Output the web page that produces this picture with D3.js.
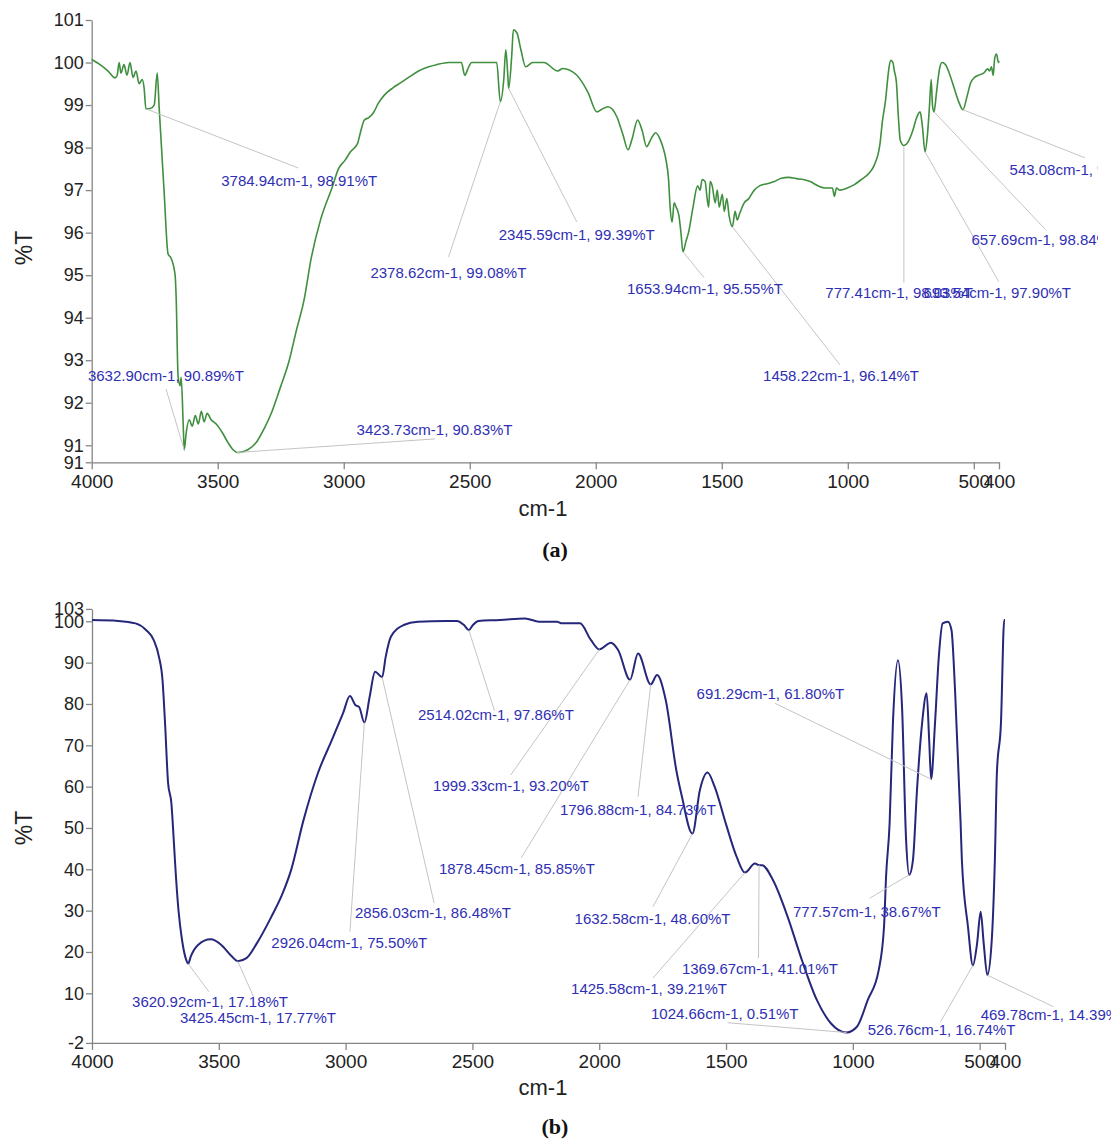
<!DOCTYPE html>
<html>
<head>
<meta charset="utf-8">
<script src="https://cdn.jsdelivr.net/npm/d3@7"></script>
<style>
  body { margin: 0; background: #fff; }
</style>
</head>
<body>
<div id="container"></div>
<script>
/* DATA */
// (a) spectrum, wavenumber (cm-1) and %T
const topWn = [4000, 3967, 3935, 3907, 3899, 3891, 3884, 3872, 3860, 3848, 3836, 3824, 3812, 3800, 3792,
  3784.94, 3768, 3752, 3740, 3732, 3713, 3697, 3685, 3669, 3665, 3657, 3649, 3645, 3637, 3632.90, 3625,
  3613, 3601, 3589, 3577, 3565, 3554, 3542, 3526, 3506, 3482, 3458, 3440, 3423.73, 3406, 3379, 3343, 3315,
  3287, 3252, 3216, 3188, 3158, 3129, 3092, 3045, 3021, 2995, 2973, 2945, 2934, 2918, 2902, 2882, 2862,
  2838, 2806, 2775, 2735, 2703, 2663, 2631, 2584, 2533, 2520, 2504, 2492, 2433, 2393, 2378.62, 2365, 2357,
  2349, 2345.59, 2333, 2327, 2313, 2297, 2278, 2250, 2206, 2151, 2131, 2075, 2031, 1995, 1976, 1952, 1916,
  1892, 1872, 1856, 1834, 1816, 1798, 1781, 1762, 1745, 1733, 1721, 1711, 1705, 1697, 1689, 1681, 1670,
  1662, 1653.94, 1642, 1632, 1614, 1596, 1586, 1578, 1566, 1558, 1552, 1546, 1538, 1526, 1518, 1510, 1498,
  1490, 1480, 1471, 1458.22, 1447, 1439, 1429, 1411, 1393, 1371, 1350, 1320, 1292, 1264, 1234, 1204, 1176,
  1149, 1118, 1089, 1061, 1053, 1045, 1031, 1002, 974, 946, 915, 894, 872, 863, 850, 842, 836, 829, 821,
  815, 807, 799, 792, 777.41, 759, 742, 727, 713, 704, 693.54, 684, 676, 669, 664, 657.69, 648, 636, 626,
  612, 598, 578, 558, 543.08, 527, 512, 497, 481, 461, 445, 437, 430, 423, 417, 410, 402, 400];
const topT = [100.07, 99.95, 99.8, 99.64, 99.7, 100.0, 99.75, 99.95, 99.7, 100.0, 99.65, 99.8, 99.5, 99.6, 99.4,
  98.91, 98.92, 99.0, 99.75, 98.9, 97.0, 95.5, 95.4, 95.0, 94.5, 92.6, 92.4, 92.6, 91.5, 90.89, 91.3,
  91.6, 91.45, 91.7, 91.5, 91.8, 91.55, 91.75, 91.6, 91.5, 91.3, 91.05, 90.9, 90.83, 90.84, 90.9, 91.1, 91.4,
  91.76, 92.35, 93.0, 93.7, 94.4, 95.4, 96.3, 97.08, 97.5, 97.7, 97.9, 98.1, 98.35, 98.65, 98.7, 98.82, 99.05,
  99.24, 99.4, 99.52, 99.68, 99.8, 99.9, 99.95, 100.0, 100.0, 99.7, 99.9, 100.0, 100.0, 100.0, 99.08, 99.6, 100.3,
  99.7, 99.39, 100.2, 100.77, 100.7, 100.3, 99.9, 100.0, 100.0, 99.8, 99.86, 99.7, 99.3, 98.84, 98.9, 98.96, 98.72,
  98.3, 97.95, 98.2, 98.65, 98.4, 98.02, 98.2, 98.35, 98.2, 98.0, 97.7, 97.24, 96.6, 96.25, 96.7, 96.6, 96.4,
  96.0, 95.55, 95.8, 96.0, 96.6, 97.1, 97.0, 97.25, 97.2, 96.8, 96.6, 97.2, 97.1, 96.7, 97.0, 96.6, 96.9,
  96.5, 96.8, 96.4, 96.14, 96.5, 96.3, 96.45, 96.7, 96.8, 97.0, 97.1, 97.15, 97.2, 97.28, 97.3, 97.27, 97.25,
  97.2, 97.1, 97.05, 97.05, 96.85, 97.05, 97.0, 97.05, 97.13, 97.25, 97.4, 97.6, 98.1, 98.6, 99.12, 99.6, 99.9, 100.05, 100.0,
  99.8, 99.53, 98.7, 98.18, 98.05, 98.15, 98.4, 98.7, 98.84, 98.5, 97.9, 98.3, 98.96, 99.6, 99.0, 98.84, 99.3, 99.85, 100.0,
  99.95, 99.76, 99.4, 99.05, 98.89, 99.2, 99.53, 99.65, 99.7, 99.75, 99.85, 99.8, 99.9, 99.7, 100.1, 100.2, 100.0, 100.04];

// (b) spectrum
const bottomWn = [4000, 3897, 3828, 3787, 3757, 3736, 3722, 3712, 3700, 3687, 3677, 3673, 3659, 3645, 3628,
  3620.92, 3610, 3582, 3532, 3490, 3450, 3425.45, 3391, 3349, 3293, 3251, 3215, 3166, 3109, 3054, 3010, 2983,
  2961, 2947, 2926.04, 2905, 2884, 2856.03, 2842, 2821, 2771, 2715, 2604, 2561, 2533, 2514.02, 2498, 2476,
  2391, 2293, 2237, 2166, 2147, 2076, 2033, 1999.33, 1954, 1926, 1878.45, 1847, 1796.88, 1772, 1738, 1695,
  1674, 1632.58, 1603, 1573, 1545, 1501, 1458, 1425.58, 1386, 1369.67, 1358, 1315, 1257, 1201, 1142, 1086,
  1024.66, 984, 941, 898, 877, 869, 855, 842, 822, 806, 790, 777.57, 763, 747, 727, 709, 699, 691.29, 676,
  661, 646, 625, 611, 597, 575, 570, 546, 526.76, 510, 496, 484, 469.78, 453, 440, 432, 416, 403, 400];
const bottomT = [100.3, 100.1, 99.5, 97.9, 95.5, 91.4, 85.8, 75.4, 60.9, 56.0, 46.4, 42.2, 30.1, 22.9, 18.0,
  17.18, 19.0, 21.7, 23.05, 21.7, 19.0, 17.77, 18.5, 22.2, 28.5, 33.8, 39.8, 51.9, 63.3, 71.3, 77.8, 81.9,
  79.7, 79.3, 75.5, 81.8, 87.8, 86.48, 91.4, 96.3, 99.1, 99.9, 100.1, 100.1, 99.1, 97.86, 99.1, 100.1,
  100.3, 100.7, 99.9, 99.9, 99.5, 99.5, 95.5, 93.2, 94.8, 93.1, 85.85, 92.2, 84.73, 87.0, 81.0, 63.6,
  57.6, 48.6, 59.2, 63.4, 60.0, 51.1, 43.0, 39.21, 41.4, 41.01, 41.0, 37.4, 28.5, 18.05, 8.4, 2.7,
  0.51, 1.9, 8.4, 15.6, 26.1, 38.2, 51.1, 75.3, 90.6, 79.3, 47.1, 38.67, 42.2, 59.2, 75.3, 82.6, 71.3, 61.8, 75.3,
  91.4, 99.5, 99.9, 97.9, 83.4, 51.1, 42.2, 26.1, 16.74, 22.1, 29.7, 22.1, 14.39, 22.1, 42.2, 63.3, 75.3, 100.3, 100.3];

const xTicks = [4000, 3500, 3000, 2500, 2000, 1500, 1000, 500, 400];
const topYTicks = [90.6, 91, 92, 93, 94, 95, 96, 97, 98, 99, 100, 101];
const bottomYTicks = [-2, 10, 20, 30, 40, 50, 60, 70, 80, 90, 100, 103];

// peak picks: [wavenumber, %T]
const topPeaks = [[3784.94, 98.91], [3632.90, 90.89], [3423.73, 90.83], [2378.62, 99.08], [2345.59, 99.39],
  [1653.94, 95.55], [1458.22, 96.14], [777.41, 98.03], [693.54, 97.90], [657.69, 98.84], [543.08, 98.89]];
const bottomPeaks = [[2514.02, 97.86], [1999.33, 93.20], [1878.45, 85.85], [1796.88, 84.73], [2856.03, 86.48],
  [2926.04, 75.50], [3620.92, 17.18], [3425.45, 17.77], [1632.58, 48.60], [1425.58, 39.21], [1369.67, 41.01],
  [1024.66, 0.51], [777.57, 38.67], [691.29, 61.80], [526.76, 16.74], [469.78, 14.39]];

// where each peak label sits (in chart units): [text wn, text %T, leader end wn, leader end %T]
const topLabelAt = [[3486, 97.22, 3180, 97.52], [4015, 92.63, 3705, 92.32], [2949, 91.36, 2639, 91.15],
  [2894, 95.05, 2584, 95.43], [2385, 95.95, 2075, 96.25], [1876, 94.68, 1570, 94.94], [1336, 92.63, 1031, 92.89],
  [1089, 94.58, 777.41, 94.82], [700, 94.58, 401, 94.85], [509, 95.83, 215, 96.07], [358, 97.48, 59, 97.76]];
const bottomLabelAt = [[2715, 77.33, 2413, 78.37], [2655, 60.15, 2349, 62.81], [2632, 40.07, 2308, 42.73],
  [2155, 54.34, 1847, 57.56], [2963, 29.42, 2651, 31.84], [3293, 22.16, 2983, 24.9], [3842, 7.96, 3539, 10.38],
  [3653, 4.02, 3363, 9.17], [2097, 28.14, 1788, 30.95], [2111, 11.2, 1788, 13.69], [1674, 16.04, 1372, 18.53],
  [1796, 5.15, 1494, 2.88], [1236, 29.74, 934, 32.98], [1616, 82.58, 1307, 80.16], [941, 1.11, 654, 3.12],
  [496, 4.74, 209, 6.75]];

/* CONSTANTS */
const width = 1111, height = 1141;
const sans = "'Liberation Sans', Arial, sans-serif";
const fmt2 = d3.format(".2f");
const fmtInt = d => String(Math.round(d)); // plain hyphen, no thousands comma

const svg = d3.select("#container").append("svg")
  .attr("width", width)
  .attr("height", height)
  .style("background", "#fff");

svg.append("defs").append("clipPath").attr("id", "clipTop")
  .append("rect").attr("x", 0).attr("y", 0).attr("width", 1098).attr("height", 560);

function drawPanel(p) {
  const x = d3.scaleLinear().domain([4000, 400]).range(p.xRange);
  const y = d3.scaleLinear().domain(p.yDomain).range(p.yRange);
  const g = svg.append("g");

  // leader lines
  const ann = g.append("g").attr("clip-path", p.clip || null);
  ann.selectAll("line")
    .data(p.peaks)
    .join("line")
    .attr("x1", d => x(d[0]))
    .attr("y1", d => y(d[1]))
    .attr("x2", (d, i) => x(p.labelAt[i][2]))
    .attr("y2", (d, i) => y(p.labelAt[i][3]))
    .attr("stroke", "#c4c4c4")
    .attr("stroke-width", 1);

  // axes
  const yAxis = d3.axisLeft(y)
    .tickValues(p.yTicks)
    .tickFormat(fmtInt)
    .tickSize(6)
    .tickSizeOuter(0)
    .tickPadding(2);
  const xAxis = d3.axisBottom(x)
    .tickValues(xTicks)
    .tickFormat(fmtInt)
    .tickSize(7)
    .tickSizeOuter(0)
    .tickPadding(5);

  const yg = g.append("g")
    .attr("transform", `translate(${p.xRange[0]},0)`)
    .call(yAxis);
  const xg = g.append("g")
    .attr("transform", `translate(0,${p.yRange[0]})`)
    .call(xAxis);
  [yg, xg].forEach(a => {
    a.selectAll("path, line").attr("stroke", "#858585").attr("stroke-width", 1.3);
    a.selectAll("text").attr("fill", "#222").style("font-family", sans);
  });
  yg.selectAll("text").style("font-size", "18px");
  xg.selectAll("text").style("font-size", "19px");

  // spectrum
  const lineGen = d3.line()
    .x(d => x(d[0]))
    .y(d => y(d[1]))
    .curve(d3.curveMonotoneX);
  const pts = p.wn.map((w, i) => [w, p.t[i]]);
  g.append("path")
    .datum(pts)
    .attr("fill", "none")
    .attr("stroke", p.color)
    .attr("stroke-width", p.lineWidth)
    .attr("stroke-linejoin", "round")
    .attr("d", lineGen);

  // peak labels
  ann.selectAll("text")
    .data(p.peaks)
    .join("text")
    .attr("x", (d, i) => x(p.labelAt[i][0]))
    .attr("y", (d, i) => y(p.labelAt[i][1]))
    .attr("dy", "0.35em")
    .style("font-family", sans)
    .style("font-size", "15px")
    .attr("fill", "#2f2fb4")
    .text(d => `${fmt2(d[0])}cm-1, ${fmt2(d[1])}%T`);
  ann.raise();

  // titles
  g.append("text")
    .attr("x", 543)
    .attr("y", p.xTitleY)
    .attr("text-anchor", "middle")
    .style("font-family", sans)
    .style("font-size", "22px")
    .attr("fill", "#222")
    .text("cm-1");
  g.append("text")
    .attr("transform", `translate(32,${p.yTitleY}) rotate(-90)`)
    .attr("text-anchor", "middle")
    .style("font-family", sans)
    .style("font-size", "23px")
    .attr("fill", "#222")
    .text("%T");
  g.append("text")
    .attr("x", 555)
    .attr("y", p.captionY)
    .attr("text-anchor", "middle")
    .style("font-family", "'Liberation Serif', 'Times New Roman', serif")
    .style("font-size", "22px")
    .style("font-weight", "bold")
    .attr("fill", "#111")
    .text(p.caption);
}

drawPanel({
  wn: topWn, t: topT, peaks: topPeaks, labelAt: topLabelAt,
  xRange: [91.7, 999], yDomain: [90.6, 101], yRange: [462.3, 20],
  yTicks: topYTicks, color: "#3f8f3f", lineWidth: 1.6,
  xTitleY: 516, yTitleY: 248, captionY: 557, caption: "(a)", clip: "url(#clipTop)"
});

drawPanel({
  wn: bottomWn, t: bottomT, peaks: bottomPeaks, labelAt: bottomLabelAt,
  xRange: [92, 1005], yDomain: [-2, 103], yRange: [1042.9, 608.9],
  yTicks: bottomYTicks, color: "#26267a", lineWidth: 2,
  xTitleY: 1095, yTitleY: 828, captionY: 1134, caption: "(b)"
});
</script>
</body>
</html>
